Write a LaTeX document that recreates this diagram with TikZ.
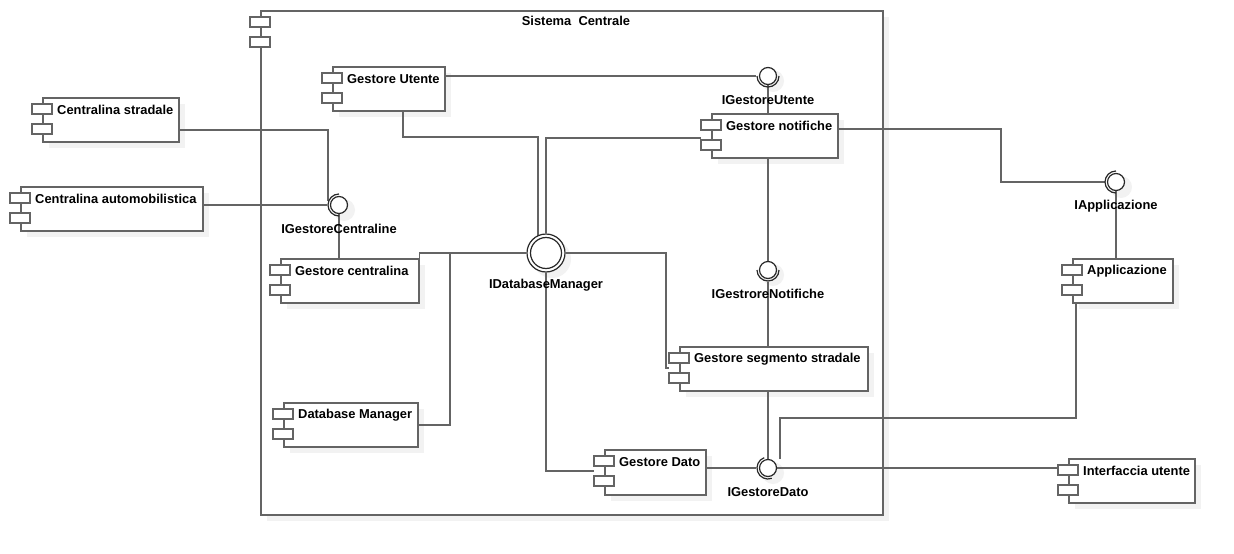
\documentclass[tikz,border=0pt]{standalone}
\usepackage{fontspec}
\setmainfont{Liberation Sans}
\usetikzlibrary{calc}

\pgfdeclarelayer{shadowlayer}
\pgfdeclarelayer{wirelayer}
\pgfsetlayers{shadowlayer,wirelayer,main}

\definecolor{linec}{RGB}{100,100,100}
\definecolor{ballc}{RGB}{40,40,40}
\definecolor{shadowc}{RGB}{242,242,242}

\newcommand{\lblfont}{\fontsize{12.9}{15}\selectfont\bfseries}

% component: name, x, y, width, height, text
\newcommand{\umlcomp}[6]{%
  \begin{pgfonlayer}{shadowlayer}
    \fill[shadowc] (#2+7,#3+7) rectangle ++(#4,#5);
  \end{pgfonlayer}
  \node[compbox, minimum width=#4pt, minimum height=#5pt] (#1) at (#2,#3) {};
  \draw[iconbox] ([shift={(-10,7)}]#1.north west) rectangle ++(20,10);
  \draw[iconbox] ([shift={(-10,27)}]#1.north west) rectangle ++(20,10);
  \node[complabel] (#1-t) at ([shift={(15,13)}]#1.north west) {#6};
}

% interface (ball + socket): name, x, y, socket start angle, text
\newcommand{\umliface}[5]{%
  \begin{pgfonlayer}{shadowlayer}
    \fill[shadowc] (#2+5,#3+5) circle[radius=11pt];
  \end{pgfonlayer}
  \node[ball] (#1) at (#2,#3) {};
  \draw[socket] (#1.center) ++(#4:11pt) arc[start angle=#4, end angle=#4+180, radius=11pt];
  \node[iflabel] (#1-t) at (#2,#3+24) {#5};
}

\begin{document}
\begin{tikzpicture}[x=1pt, y=-1pt,
    every node/.style={font=\lblfont},
    compbox/.style={draw=linec, line width=1.5pt, fill=white, rectangle, inner sep=0pt, anchor=north west},
    sysbox/.style={draw=linec, line width=1.5pt, rectangle, inner sep=0pt, anchor=north west},
    iconbox/.style={draw=linec, line width=1.5pt, fill=white},
    complabel/.style={anchor=west, inner sep=0pt},
    ball/.style={circle, draw=ballc, line width=1.2pt, fill=white, minimum size=17pt, inner sep=0pt},
    socket/.style={draw=ballc, line width=1.2pt},
    iflabel/.style={inner sep=0pt},
    wire/.style={draw=linec, line width=1.5pt},
    tosock/.style={shorten >=2.5pt}]

    \useasboundingbox (0,0) rectangle (1234,554);

    % Sistema Centrale
    \begin{pgfonlayer}{shadowlayer}
        \fill[shadowc] (267,17) rectangle ++(622,504);
        \fill[white] (260,10) rectangle ++(622,504);
    \end{pgfonlayer}
    \node[sysbox, minimum width=622pt, minimum height=504pt] (sys) at (260,10) {};
    \draw[iconbox] ([shift={(-10,7)}]sys.north west) rectangle ++(20,10);
    \draw[iconbox] ([shift={(-10,27)}]sys.north west) rectangle ++(20,10);
    \node (sys-t) at (576,21) {Sistema~~Centrale};

    % components
    \umlcomp{cs}{42}{97}{136}{44}{Centralina stradale}
    \umlcomp{ca}{20}{186}{182}{44}{Centralina automobilistica}
    \umlcomp{gu}{332}{66}{112}{44}{Gestore Utente}
    \umlcomp{gc}{280}{258}{138}{44}{Gestore centralina}
    \umlcomp{dm}{283}{402}{134}{44}{Database Manager}
    \umlcomp{gn}{711}{113}{126}{44}{Gestore notifiche}
    \umlcomp{gs}{679}{346}{188}{44}{Gestore segmento stradale}
    \umlcomp{gd}{604}{449}{101}{45}{Gestore Dato}
    \umlcomp{app}{1072}{258}{100}{44}{Applicazione}
    \umlcomp{iu}{1068}{458}{126}{44}{Interfaccia utente}

    % interfaces
    \umliface{igu}{768}{76}{180}{IGestoreUtente}
    \umliface{igc}{339}{205}{90}{IGestoreCentraline}
    \umliface{ign}{768}{270}{180}{IGestroreNotifiche}
    \umliface{igd}{768}{468}{110}{IGestoreDato}
    \umliface{iapp}{1116}{182}{90}{IApplicazione}

    \begin{pgfonlayer}{shadowlayer}
        \fill[shadowc] (552,259) circle[radius=19pt];
    \end{pgfonlayer}
    \node[ball, minimum size=38pt] (idb) at (546,253) {};
    \draw[socket] (idb.center) circle[radius=15.5pt];
    \node[iflabel] (idb-t) at (546,285) {IDatabaseManager};

    % connectors
    \begin{pgfonlayer}{wirelayer}
        \draw[wire, tosock] (gu.east |- igu.west) -- (igu.west);
        \draw[wire] (igu.south) -- (igu.south |- gn.north);
        \draw[wire] ($(gu.south west)+(71,0)$) |- ($(idb.center)+(-8,-116)$)
            -- ($(idb.center)+(-8,-17)$);
        \draw[wire] ($(gn.north west)+(-10,25)$) -| (idb.north);

        \draw[wire] ($(cs.north east)+(0,33)$) -| ($(igc.center)+(-11,-4)$);
        \draw[wire, tosock] (ca.east |- igc.west) -- (igc.west);
        \draw[wire] (igc.south) -- (igc.south |- gc.north);

        \draw[wire] (gc.north east) |- (idb.west);
        \draw[wire] (dm.east) -| (450,253);
        \draw[wire] (idb.east) -| ($(gs.north west)+(-13,22)$) -- ($(gs.north west)+(-10,22)$);
        \draw[wire] (idb.south) |- ($(gd.north west)+(-10,22)$);

        \draw[wire] (ign.north |- gn.south) -- (ign.north);
        \draw[wire, tosock] (ign.south |- gs.north) -- (ign.south);
        \draw[wire] (igd.north |- gs.south) -- (igd.north);
        \draw[wire, tosock] (gd.east |- igd.west) -- (igd.west);
        \draw[wire] (igd.east) -- (igd.east -| iu.west);

        \draw[wire] ($(gn.north east)+(0,16)$) -| ($(iapp.center)+(-115,0)$) -- ($(iapp.center)+(-11,0)$);
        \draw[wire] (iapp.south) -- (iapp.south |- app.north);
        \draw[wire] ($(app.south west)+(4,0)$) |- ($(igd.center)+(12,-50)$)
            -- ($(igd.center)+(12,-9)$);
    \end{pgfonlayer}

\end{tikzpicture}
\end{document}
